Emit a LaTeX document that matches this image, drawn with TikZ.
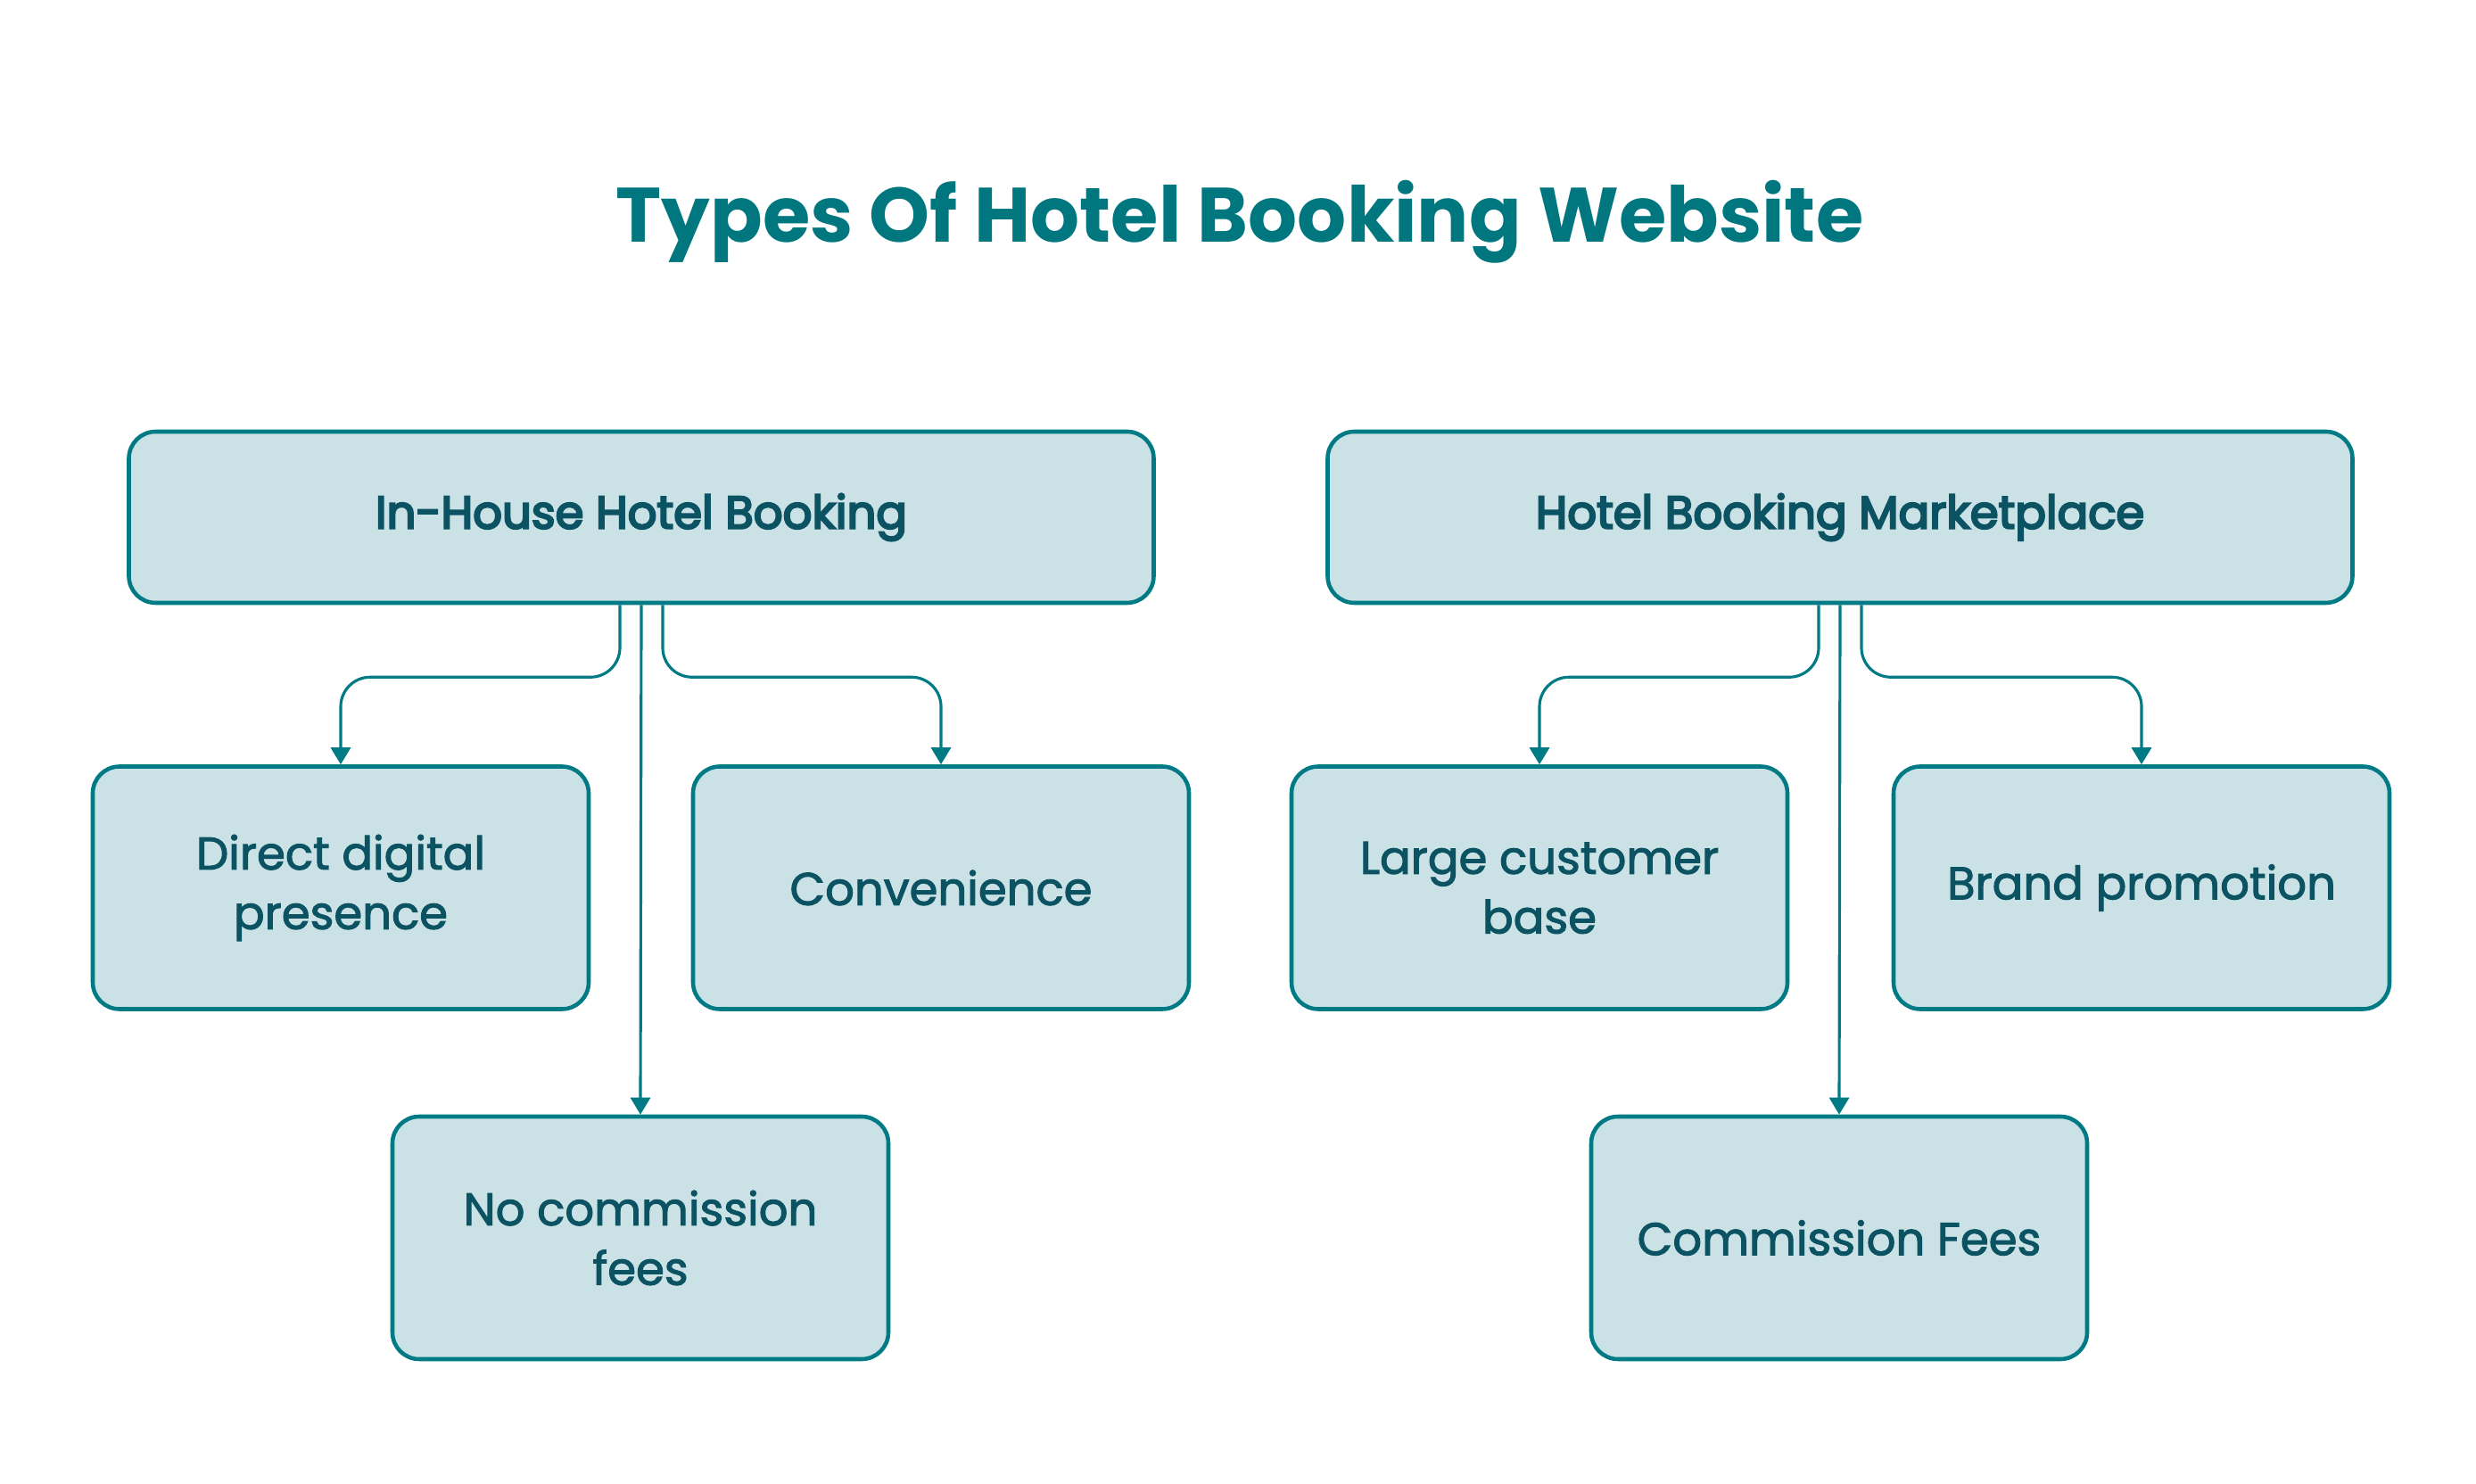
\documentclass[tikz,border=0pt]{standalone}
\usepackage{fontspec}
\setmainfont{Poppins}
\usepackage{tikz}
\usetikzlibrary{arrows.meta, positioning, calc}

\definecolor{boxline}{HTML}{007A84}
\definecolor{boxfill}{HTML}{CAE2E5}
\definecolor{boxtext}{HTML}{0B5262}
\definecolor{titlecol}{HTML}{00777F}

% a little more weight for the box texts (fill + stroke)
\newcommand\weighton[1]{\special{pdf:code 2 Tr #1 w}}
\newcommand\weightoff{\special{pdf:code 0 Tr}}

\begin{document}
\begin{tikzpicture}[
    box/.style={draw=boxline, line width=1.3pt, fill=boxfill, rounded corners=0.3cm,
        text=boxtext, align=center, inner sep=0pt,
        font=\fontsize{14.6}{19}\selectfont,
        execute at begin node={\weighton{0.3}}, execute at end node={\weightoff},
        minimum width=5.56cm, minimum height=2.72cm},
    headbox/.style={box, minimum width=11.49cm, minimum height=1.92cm,
        execute at begin node={\weighton{0.65}}},
    link/.style={draw=boxline, line width=0.9pt, rounded corners=0.33cm,
        -{Triangle[length=0.19cm, width=0.22cm]}}
    ]
        \useasboundingbox (0,0) rectangle (27.76,-16.64);
        %\draw [step=1cm] (0,-16) grid (27,0);
        \node[anchor=base, text=titlecol, font=\fontsize{24.6}{28}\selectfont\bfseries] (title) at (13.9,-2.72) {Types Of Hotel Booking Website};

        % left tree
        \node[headbox] (inhouse) at (7.19,-5.80) {In-House Hotel Booking};
        \node[box] (direct) at (3.82,-9.955) {Direct digital\\presence};
        \node[box] (conv) at (10.55,-9.955) {Convenience};
        \node[box] (nocomm) at (7.18,-13.88) {No commission\\fees};

        % right tree
        \node[headbox] (market) at (20.63,-5.80) {Hotel Booking Marketplace};
        \node[box] (large) at (17.26,-9.955) {Large customer\\base};
        \node[box] (brand) at (24.01,-9.955) {Brand promotion};
        \node[box] (comm) at (20.62,-13.88) {Commission Fees};

        \draw[link] ([xshift=-2.4mm]inhouse.south) -- ++(0,-0.81) -| (direct.north);
        \draw[link] ([xshift=2.4mm]inhouse.south) -- ++(0,-0.81) -| (conv.north);
        \draw[link] (inhouse.south) -- (nocomm.north);

        \draw[link] ([xshift=-2.4mm]market.south) -- ++(0,-0.81) -| (large.north);
        \draw[link] ([xshift=2.4mm]market.south) -- ++(0,-0.81) -| (brand.north);
        \draw[link] (market.south) -- (comm.north);
\end{tikzpicture}
\end{document}
